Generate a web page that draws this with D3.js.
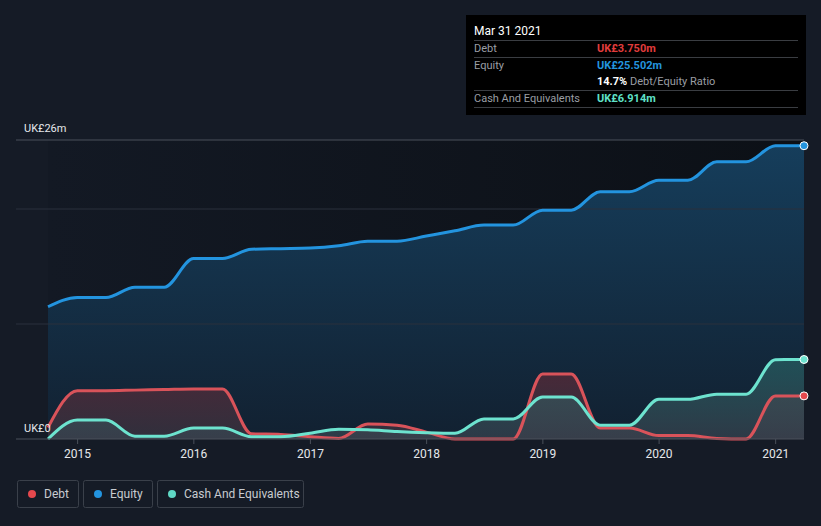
<!DOCTYPE html>
<html><head><meta charset="utf-8">
<script src="https://cdn.jsdelivr.net/npm/d3@7"></script>
<style>
html,body{margin:0;padding:0;background:#151b26;}
svg{display:block;font-family:Roboto,"Noto Sans",sans-serif;}
</style></head>
<body>
<svg id="c" width="821" height="526"></svg>
<script>
const dates = ["2014-09-30","2014-12-31","2015-03-31","2015-06-30","2015-09-30","2015-12-31","2016-03-31","2016-06-30","2016-09-30","2016-12-31","2017-03-31","2017-06-30","2017-09-30","2017-12-31","2018-03-31","2018-06-30","2018-09-30","2018-12-31","2019-03-31","2019-06-30","2019-09-30","2019-12-31","2020-03-31","2020-06-30","2020-09-30","2020-12-31","2021-03-31"];
const equity = [11.5,12.3,12.3,13.2,13.2,15.7,15.7,16.5,16.55,16.6,16.8,17.2,17.2,17.65,18.1,18.6,18.6,19.9,19.9,21.5,21.5,22.5,22.5,24.1,24.1,25.5,25.502];
const debt = [1.0,4.2,4.2,4.25,4.3,4.35,4.35,0.45,0.4,0.2,0.05,1.3,1.2,0.6,0.0,0.0,0.0,5.65,5.65,0.95,0.95,0.3,0.3,0.05,0.0,3.75,3.75];
const cash = [0.0,1.65,1.65,0.25,0.25,0.95,0.95,0.2,0.2,0.5,0.85,0.8,0.65,0.55,0.5,1.75,1.75,3.65,3.65,1.2,1.2,3.45,3.45,3.9,3.9,6.9,6.914];
const yTicks = [0,10,20,26];
const xTickYears = [2015,2016,2017,2018,2019,2020,2021];

const svg = d3.select("#c");
const parse = d3.timeParse("%Y-%m-%d");
const D = dates.map(parse);
const x = d3.scaleTime().domain([D[0], D[D.length-1]]).range([48,804]);
const y = d3.scaleLinear().domain([0,26]).range([439,140]);

const defs = svg.append("defs");
const bg = defs.append("linearGradient").attr("id","bg").attr("x1",0).attr("x2",1).attr("y1",0).attr("y2",0);
bg.append("stop").attr("offset","0%").attr("stop-color","#131924");
bg.append("stop").attr("offset","100%").attr("stop-color","#0c1016");
const ge = defs.append("linearGradient").attr("id","ge").attr("x1",0).attr("x2",0).attr("y1",0).attr("y2",1);
ge.append("stop").attr("offset","0%").attr("stop-color","#16405f").attr("stop-opacity",0.95);
ge.append("stop").attr("offset","100%").attr("stop-color","#122233").attr("stop-opacity",0.9);
const gd = defs.append("linearGradient").attr("id","gd").attr("x1",0).attr("x2",0).attr("y1",0).attr("y2",1);
gd.append("stop").attr("offset","0%").attr("stop-color","#5a2a38").attr("stop-opacity",0.75);
gd.append("stop").attr("offset","100%").attr("stop-color","#3a3440").attr("stop-opacity",0.75);
const gc = defs.append("linearGradient").attr("id","gc").attr("x1",0).attr("x2",0).attr("y1",0).attr("y2",1);
gc.append("stop").attr("offset","0%").attr("stop-color","#2a6a6a").attr("stop-opacity",0.6);
gc.append("stop").attr("offset","100%").attr("stop-color","#3a4450").attr("stop-opacity",0.7);

// plot background
svg.append("rect").attr("x",x.range()[0]).attr("y",y(26)).attr("width",x.range()[1]-x.range()[0]).attr("height",y(0)-y(26)).attr("fill","url(#bg)");

const curve = d3.curveMonotoneX;
function area(vals){ return d3.area().x((d,i)=>x(D[i])).y0(y(0)).y1(d=>y(d)).curve(curve)(vals); }
function line(vals){ return d3.line().x((d,i)=>x(D[i])).y(d=>y(d)).curve(curve)(vals); }

svg.append("path").attr("d",area(equity)).attr("fill","url(#ge)");

// gridlines
svg.selectAll(".grid").data(yTicks.filter(t=>t>0)).enter().append("line")
  .attr("x1",16).attr("x2",804).attr("y1",d=>y(d)).attr("y2",d=>y(d))
  .attr("stroke",d=>d===26?"#4a505a":"#2a313d").attr("stroke-width",1);

svg.append("path").attr("d",area(debt)).attr("fill","url(#gd)");
svg.append("path").attr("d",area(cash)).attr("fill","url(#gc)");

svg.append("path").attr("d",line(equity)).attr("fill","none").attr("stroke","#2394df").attr("stroke-width",3);
svg.append("path").attr("d",line(debt)).attr("fill","none").attr("stroke","#d9535a").attr("stroke-width",3);
svg.append("path").attr("d",line(cash)).attr("fill","none").attr("stroke","#6de3cf").attr("stroke-width",3);

// end dots
const last = D.length-1;
[[equity,"#2394df"],[cash,"#6de3cf"],[debt,"#e5484d"]].forEach(([v,c])=>{
  svg.append("circle").attr("cx",x(D[last])).attr("cy",y(v[last])).attr("r",4).attr("fill",c).attr("stroke","#fff").attr("stroke-width",1);
});

// x axis
const xa = svg.append("g").attr("transform",`translate(0,${y(0)})`);
xa.append("line").attr("x1",16).attr("x2",804).attr("stroke","#4a505a").attr("stroke-width",1);
const xt = xTickYears.map(yr=>new Date(yr,0,1));
xa.selectAll(".t").data(xt).enter().append("line").attr("x1",d=>x(d)).attr("x2",d=>x(d)).attr("y1",0).attr("y2",5).attr("stroke","#4a505a");
xa.selectAll(".l").data(xt).enter().append("text").attr("x",d=>x(d)).attr("y",19).attr("text-anchor","middle")
  .attr("fill","#e6e8eb").attr("font-size",12).text(d=>d3.timeFormat("%Y")(d));

// y labels
svg.append("text").attr("x",24).attr("y",y(26)-8).attr("fill","#e6e8eb").attr("font-size",11).text("UK£26m");
svg.append("text").attr("x",24).attr("y",y(0)-7).attr("fill","#e6e8eb").attr("font-size",11).text("UK£0");

// tooltip
const tt = svg.append("g");
tt.append("rect").attr("x",466).attr("y",15).attr("width",340).attr("height",100).attr("fill","#000");
tt.append("text").attr("x",474).attr("y",35).attr("fill","#fff").attr("font-size",12).text("Mar 31 2021");
[40,57,90,107].forEach(yy=>tt.append("line").attr("x1",474).attr("x2",798).attr("y1",yy+0.5).attr("y2",yy+0.5).attr("stroke","#3a3d42"));
const rows = [
  ["Debt","UK£3.750m","#e03c3c",52],
  ["Equity","UK£25.502m","#2394df",69],
  ["Cash And Equivalents","UK£6.914m","#5fe0c8",102]
];
rows.forEach(r=>{
  tt.append("text").attr("x",474).attr("y",r[3]).attr("fill","#9a9ea4").attr("font-size",11).text(r[0]);
  tt.append("text").attr("x",597).attr("y",r[3]).attr("fill",r[2]).attr("font-size",11).attr("font-weight","bold").text(r[1]);
});
const rt = tt.append("text").attr("x",597).attr("y",85).attr("font-size",11);
rt.append("tspan").attr("fill","#fff").attr("font-weight","bold").text("14.7%");
rt.append("tspan").attr("fill","#9a9ea4").text(" Debt/Equity Ratio");

// legend
const leg = [["Debt","#e5484d",17,61],["Equity","#2394df",83,69],["Cash And Equivalents","#5fd8c5",157,146]];
leg.forEach(l=>{
  const g = svg.append("g");
  g.append("rect").attr("x",l[2]+0.5).attr("y",480.5).attr("width",l[3]).attr("height",27).attr("rx",2).attr("fill","none").attr("stroke","#3a404a");
  g.append("circle").attr("cx",l[2]+15).attr("cy",494).attr("r",4).attr("fill",l[1]);
  g.append("text").attr("x",l[2]+27).attr("y",498).attr("fill","#c8cbd0").attr("font-size",12).text(l[0]);
});
</script>
</body></html>
